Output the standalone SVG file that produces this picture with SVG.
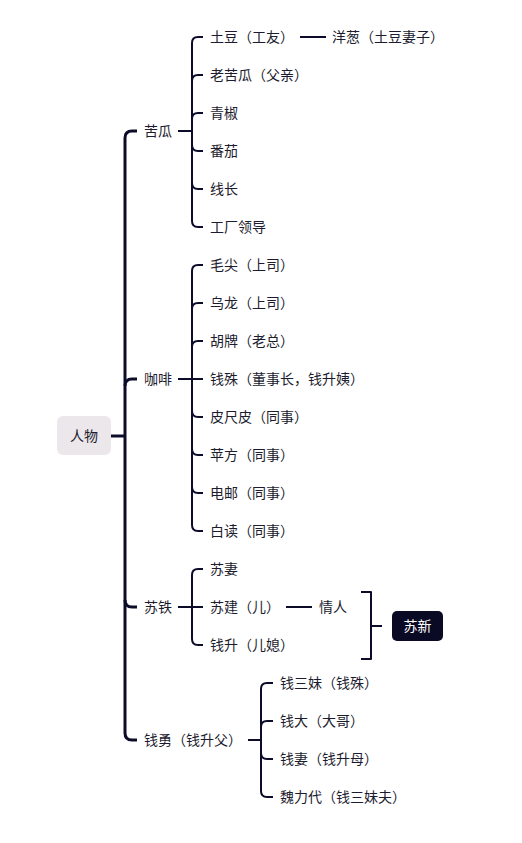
<svg xmlns="http://www.w3.org/2000/svg" width="522" height="843" viewBox="0 0 522 843">
<style>
text{font-family:"Noto Sans CJK SC","Noto Sans",sans-serif;font-size:14px;fill:#1c1c2e}
.w{fill:#ffffff;text-anchor:middle}
.m{text-anchor:middle}
.c{fill:none;stroke:#0c0c2a;stroke-width:2;stroke-linecap:butt;stroke-linejoin:round}
.t{stroke-width:3}
</style>
<rect width="522" height="843" fill="#ffffff"/>
<g id="connectors">
<path class="c t" d="M111,436 H125"/>
<path class="c t" d="M137,131 H132 Q125,131 125,138 V733 Q125,740 132,740 H137"/>
<path class="c t" d="M125,386 Q125,379 132,379 H137"/>
<path class="c t" d="M125,600 Q125,607 132,607 H137"/>
<path class="c" d="M178,131 H192"/>
<path class="c" d="M203,37 H198 Q192,37 192,43 V221 Q192,227 198,227 H203"/>
<path class="c" d="M192,81 Q192,75 198,75 H203 M192,119 Q192,113 198,113 H203 M192,145 Q192,151 198,151 H203 M192,183 Q192,189 198,189 H203"/>
<path class="c" d="M300,37 H326"/>
<path class="c" d="M178,379 H203"/>
<path class="c" d="M203,265 H198 Q192,265 192,271 V525 Q192,531 198,531 H203"/>
<path class="c" d="M192,309 Q192,303 198,303 H203 M192,347 Q192,341 198,341 H203 M192,411 Q192,417 198,417 H203 M192,449 Q192,455 198,455 H203 M192,487 Q192,493 198,493 H203"/>
<path class="c" d="M178,607 H203"/>
<path class="c" d="M203,569 H198 Q192,569 192,575 V639 Q192,645 198,645 H203"/>
<path class="c" d="M286,607 H312"/>
<path class="c" d="M361,592 H371 V659 H361"/>
<path class="c" d="M371,626 H382"/>
<path class="c" d="M248,740 H261"/>
<path class="c" d="M273,683 H267 Q261,683 261,689 V791 Q261,797 267,797 H273"/>
<path class="c" d="M261,727 Q261,721 267,721 H273 M261,753 Q261,759 267,759 H273"/>
</g>
<g id="root"><rect x="57" y="416" width="54" height="39" rx="6" fill="#ece7eb"/><text class="m" x="84" y="441">人物</text></g>
<g id="kugua"><text x="144" y="136">苦瓜</text></g>
<g id="tudou"><text x="210" y="42">土豆（工友）</text></g>
<g id="yangcong"><text x="332" y="42">洋葱（土豆妻子）</text></g>
<g id="laokugua"><text x="210" y="80">老苦瓜（父亲）</text></g>
<g id="qingjiao"><text x="210" y="118">青椒</text></g>
<g id="fanqie"><text x="210" y="156">番茄</text></g>
<g id="xianzhang"><text x="210" y="194">线长</text></g>
<g id="gongchang"><text x="210" y="232">工厂领导</text></g>
<g id="kafei"><text x="144" y="384">咖啡</text></g>
<g id="maojian"><text x="210" y="270">毛尖（上司）</text></g>
<g id="wulong"><text x="210" y="308">乌龙（上司）</text></g>
<g id="hupai"><text x="210" y="346">胡牌（老总）</text></g>
<g id="qianshu"><text x="210" y="384">钱殊（董事长，钱升姨）</text></g>
<g id="pichipi"><text x="210" y="422">皮尺皮（同事）</text></g>
<g id="pingfang"><text x="210" y="460">苹方（同事）</text></g>
<g id="dianyou"><text x="210" y="498">电邮（同事）</text></g>
<g id="baidu"><text x="210" y="536">白读（同事）</text></g>
<g id="sutie"><text x="144" y="612">苏铁</text></g>
<g id="suqi"><text x="210" y="574">苏妻</text></g>
<g id="sujian"><text x="210" y="612">苏建（儿）</text></g>
<g id="qingren"><text x="319" y="612">情人</text></g>
<g id="qiansheng"><text x="210" y="650">钱升（儿媳）</text></g>
<g id="suxin"><rect x="392" y="611" width="51" height="30" rx="5" fill="#0a0a24"/><text class="w" x="417.5" y="631">苏新</text></g>
<g id="qianyong"><text x="144" y="745">钱勇（钱升父）</text></g>
<g id="qiansanmei"><text x="280" y="688">钱三妹（钱殊）</text></g>
<g id="qianda"><text x="280" y="726">钱大（大哥）</text></g>
<g id="qianqi"><text x="280" y="764">钱妻（钱升母）</text></g>
<g id="weilidai"><text x="280" y="802">魏力代（钱三妹夫）</text></g>
</svg>
